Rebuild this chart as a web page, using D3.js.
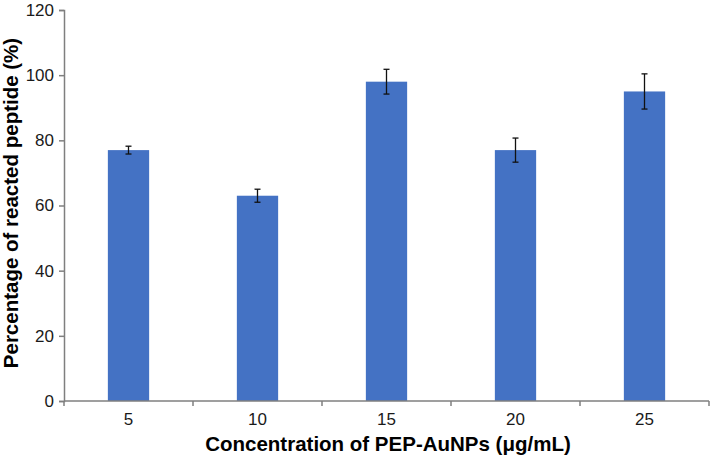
<!DOCTYPE html>
<html><head><meta charset="utf-8">
<script src="https://cdn.jsdelivr.net/npm/d3@7"></script>
<style>body{margin:0;background:#fff}</style>
</head><body>
<svg id="c" width="710" height="458"></svg>
<script>
const categories = ["5", "10", "15", "20", "25"];
const values = [77, 63, 98, 77, 95];
const errors = [1.2, 2.0, 3.8, 3.7, 5.4];
const yTicks = [0, 20, 40, 60, 80, 100, 120];

const svg = d3.select("#c");
const m = {left: 64, right: 1, top: 10, bottom: 57};
const W = 710, H = 458;
const x = d3.scaleBand().domain(categories).range([m.left, W - m.right]).paddingInner(0.68).paddingOuter(0.34);
const y = d3.scaleLinear().domain([0, 120]).range([H - m.bottom, m.top]);
const font = "'Liberation Sans', Arial, sans-serif";
const axisColor = "#7f7f7f";

// bars
svg.append("g").selectAll("rect").data(values).join("rect")
  .attr("x", (d, i) => x(categories[i]))
  .attr("width", x.bandwidth())
  .attr("y", d => y(d))
  .attr("height", d => y(0) - y(d))
  .attr("fill", "#4472c4");

// error bars
const eg = svg.append("g").attr("stroke", "#111").attr("stroke-width", 1.3);
values.forEach((v, i) => {
  const cx = x(categories[i]) + x.bandwidth() / 2;
  eg.append("line").attr("x1", cx).attr("x2", cx).attr("y1", y(v + errors[i])).attr("y2", y(v - errors[i]));
  eg.append("line").attr("x1", cx - 3).attr("x2", cx + 3).attr("y1", y(v + errors[i])).attr("y2", y(v + errors[i]));
  eg.append("line").attr("x1", cx - 3).attr("x2", cx + 3).attr("y1", y(v - errors[i])).attr("y2", y(v - errors[i]));
});

// y axis
const ya = svg.append("g").attr("transform", `translate(${m.left},0)`)
  .call(d3.axisLeft(y).tickValues(yTicks).tickSize(5).tickPadding(5));
// x axis with ticks at band boundaries
const xa = svg.append("g").attr("transform", `translate(0,${y(0)})`)
  .call(d3.axisBottom(x).tickSize(0).tickPadding(12));
const step = x.step();
const bounds = d3.range(categories.length + 1).map(i => m.left + i * step);
xa.selectAll(".bt").data(bounds).join("line").attr("class", "bt")
  .attr("x1", d => d).attr("x2", d => d).attr("y1", 0).attr("y2", 5)
  .attr("stroke", axisColor).attr("stroke-width", 1.5);

[ya, xa].forEach(a => {
  a.select(".domain").attr("stroke", axisColor).attr("stroke-width", 1.5);
  a.selectAll(".tick line").attr("stroke", axisColor).attr("stroke-width", 1.5);
  a.selectAll("text").attr("font-family", font).attr("font-size", 17).attr("fill", "#1a1a1a");
});
xa.select(".domain").attr("d", `M${m.left},0H${W - m.right}`);

// axis titles
svg.append("text").attr("x", 388).attr("y", 451).attr("text-anchor", "middle")
  .attr("font-family", font).attr("font-weight", "bold").attr("font-size", 20.5).attr("fill", "#000")
  .text("Concentration of PEP-AuNPs (μg/mL)");
svg.append("text").attr("transform", "translate(18,203) rotate(-90)").attr("text-anchor", "middle")
  .attr("font-family", font).attr("font-weight", "bold").attr("font-size", 20.5).attr("fill", "#000")
  .text("Percentage of reacted peptide (%)");
</script>
</body></html>
